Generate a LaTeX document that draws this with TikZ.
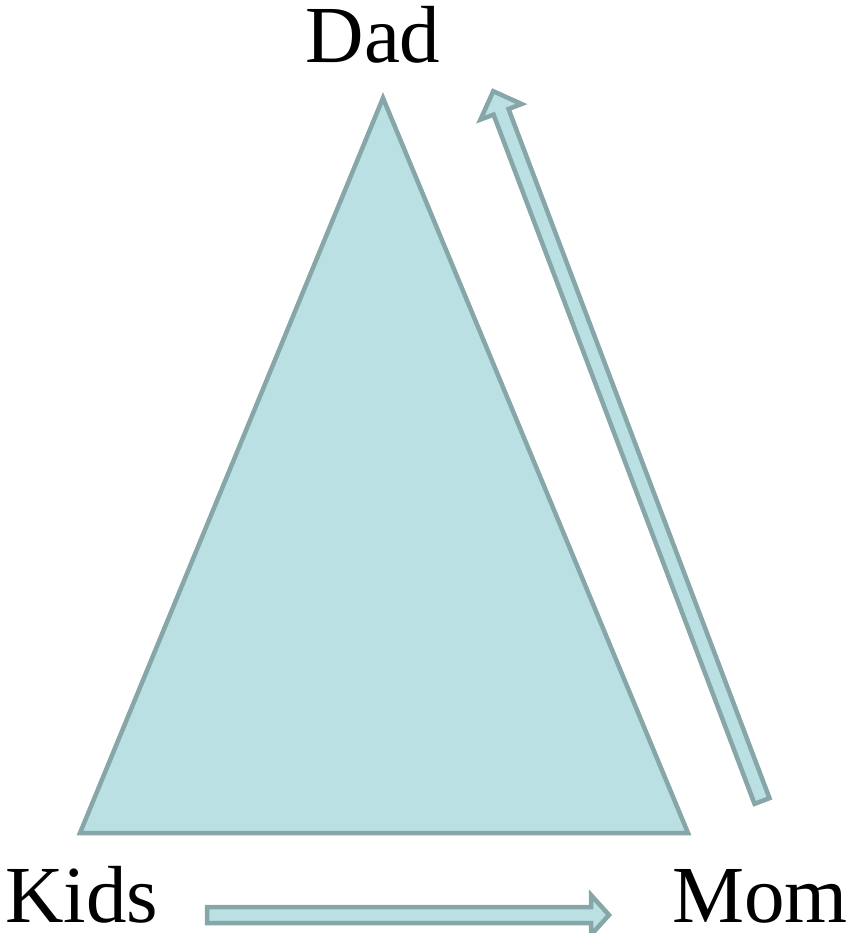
\documentclass[tikz,border=0pt]{standalone}
\usepackage{fontspec}
\setmainfont{Liberation Serif}
\definecolor{fillblue}{HTML}{BAE0E3}
\definecolor{strokegray}{HTML}{87A6A8}
\begin{document}
\begin{tikzpicture}[x=1pt,y=1pt,
  shapestyle/.style={fill=fillblue,draw=strokegray,line width=4.5pt,line join=miter},
  label/.style={inner sep=0pt,font=\fontsize{81}{90}\selectfont}]
\useasboundingbox (0,0) rectangle (850,-933);
\coordinate (apex) at (383,-98);
\coordinate (bl) at (80,-833);
\coordinate (br) at (688,-833);
\draw[shapestyle] (apex) -- (br) -- (bl) -- cycle;
\node[label,anchor=base] (dad) at (373,-63) {Dad};
\node[label,anchor=base west] (kids) at (5,-922) {Kids};
\node[label,anchor=base east] (mom) at (848,-922) {Mom};
% right arrow (Mom -> Dad side)
\coordinate (tailR) at (762,-801);
\begin{scope}[shift={(tailR)},rotate=110.74]
  \draw[shapestyle] (0,-8) -- (737,-8) -- (737,-22) -- (759,0) -- (737,22) -- (737,8) -- (0,8) -- cycle;
\end{scope}
% bottom arrow (Kids -> Mom)
\coordinate (tailB) at (207,-915);
\begin{scope}[shift={(tailB)}]
  \draw[shapestyle] (0,-8) -- (384,-8) -- (384,-20) -- (402,0) -- (384,20) -- (384,8) -- (0,8) -- cycle;
\end{scope}
\end{tikzpicture}
\end{document}
